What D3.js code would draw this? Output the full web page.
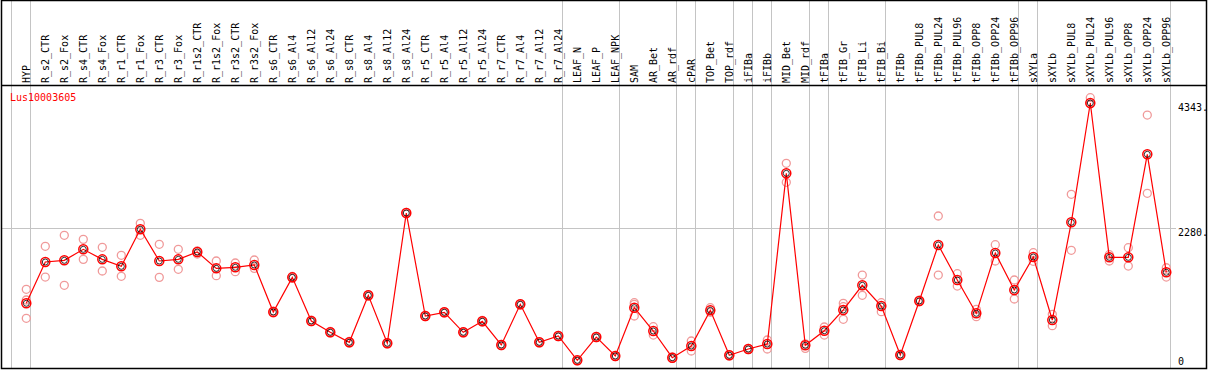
<!DOCTYPE html>
<html>
<head>
<meta charset="utf-8">
<script src="https://cdn.jsdelivr.net/npm/d3@7"></script>
<style>
  body { margin: 0; background: #fff; }
  text { font-family: "DejaVu Sans Mono", monospace; font-size: 10px; }
</style>
</head>
<body>
<div id="Vis"></div>
<script>
// sample names (x categories)
var samples = ["HYP","R_s2_CTR","R_s2_Fox","R_s4_CTR","R_s4_Fox","R_r1_CTR","R_r1_Fox","R_r3_CTR","R_r3_Fox",
  "R_r1s2_CTR","R_r1s2_Fox","R_r3s2_CTR","R_r3s2_Fox","R_s6_CTR","R_s6_Al4","R_s6_Al12","R_s6_Al24",
  "R_s8_CTR","R_s8_Al4","R_s8_Al12","R_s8_Al24","R_r5_CTR","R_r5_Al4","R_r5_Al12","R_r5_Al24",
  "R_r7_CTR","R_r7_Al4","R_r7_Al12","R_r7_Al24","LEAF_N","LEAF_P","LEAF_NPK","SAM","AR_Bet","AR_rdf",
  "cPAR","TOP_Bet","TOP_rdf","iFIBa","iFIBb","MID_Bet","MID_rdf","tFIBa","tFIB_Gr","tFIB_Li","tFIB_Bi",
  "tFIBb","tFIBb_PUL8","tFIBb_PUL24","tFIBb_PUL96","tFIBb_OPP8","tFIBb_OPP24","tFIBb_OPP96","sXYLa",
  "sXYLb","sXYLb_PUL8","sXYLb_PUL24","sXYLb_PUL96","sXYLb_OPP8","sXYLb_OPP24","sXYLb_OPP96"];

// mean expression per sample
var means = [1048,1727,1755,1936,1771,1656,2265,1744,1771,1892,1623,1640,1678,905,1475,757,571,
  406,1179,390,2533,839,900,571,752,362,1031,406,510,110,493,181,976,592,153,345,932,192,296,378,
  3186,357,597,938,1344,1003,197,1086,2007,1431,883,1875,1267,1810,773,2380,4343,1804,1804,3499,1558];

// replicate values per sample
var reps = [[1278,1102,801],[1985,1480],[2166,1344],[2100,1771],[1969,1579],[1837,1492],[2364,2166],
  [2018,1475],[1936,1607],[1908,1859],[1744,1502],[1711,1568],[1760,1623],[920,890],[1490,1460],
  [770,745],[585,560],[420,395],[1190,1165],[400,380],[2545,2520],[850,828],[912,888],[580,562],
  [765,740],[372,352],[1042,1020],[418,396],[520,500],[118,102],[505,482],[190,172],[1031,1058,839],
  [663,526],[165,142],[428,263],[976,900],[205,180],[306,286],[444,296],[3351,3038],[307,380],
  [658,526],[1048,992,785],[1513,1179],[1058,910],[208,186],[1100,1072],[2484,1513],[1535,1332],
  [949,828],[2012,1744],[1431,1119],[1880,1739],[867,680],[2841,1920],[4430,4326],[1848,1744],
  [1963,1661],[4145,2857],[1633,1480]];

// last sample of each group (vertical separators)
var groupEnds = ["HYP","R_r7_Al24","LEAF_NPK","AR_rdf","cPAR","TOP_rdf","iFIBa","iFIBb","MID_rdf",
  "tFIBa","tFIB_Bi","tFIBb_OPP96","sXYLa","sXYLb_OPP96"];

// y tick values and labels
var yTicks = [0, 2280, 4343];
var yTickLabels = ["0", "2280.", "4343."];
var geneName = "Lus10003605";

var width = 1209, height = 370;
var headerY = 85;

var svg = d3.select("#Vis")
  .append("svg")
    .attr("width", width)
    .attr("height", height);

var x = d3.scalePoint()
  .domain(samples)
  .range([26.3, 1166.3]);

var y = d3.scaleLinear()
  .domain([0, 4343])
  .range([367, 103]);

var step = x.step();

// group separators (one before the first sample too)
var sepX = [x(samples[0]) - step + 3.7].concat(groupEnds.map(function(d) { return x(d) + 3.7; }));
svg.append("g")
  .selectAll("line")
  .data(sepX)
  .enter().append("line")
    .attr("x1", function(d) { return Math.round(d) + 0.5; })
    .attr("x2", function(d) { return Math.round(d) + 0.5; })
    .attr("y1", 0)
    .attr("y2", 369)
    .attr("stroke", "#c4c4c4")
    .attr("stroke-width", 1);

// horizontal reference line at 2280
svg.append("line")
  .attr("x1", 2)
  .attr("x2", 1176)
  .attr("y1", Math.round(y(2280)) + 0.5)
  .attr("y2", Math.round(y(2280)) + 0.5)
  .attr("stroke", "#c4c4c4");

// frame and header line
svg.append("rect")
  .attr("x", 1.5).attr("y", 0.5)
  .attr("width", 1205).attr("height", 368)
  .attr("fill", "none")
  .attr("stroke", "#000")
  .attr("stroke-width", 1.5);
svg.append("line")
  .attr("x1", 1).attr("x2", 1207)
  .attr("y1", headerY + 0.5).attr("y2", headerY + 0.5)
  .attr("stroke", "#000")
  .attr("stroke-width", 1.5);

// rotated sample labels in the header
svg.append("g")
  .selectAll("text")
  .data(samples)
  .enter().append("text")
    .attr("transform", function(d) { return "translate(" + (x(d) + 3.6) + "," + (headerY - 2) + ") rotate(-90)"; })
    .attr("fill", "#000")
    .text(function(d) { return d; });

// gene name
svg.append("text")
  .attr("x", 10)
  .attr("y", 101)
  .attr("fill", "#ff0000")
  .text(geneName);

// y labels on the right
svg.append("g")
  .selectAll("text")
  .data(yTicks)
  .enter().append("text")
    .attr("x", 1178)
    .attr("y", function(d) { return Math.min(y(d) + 7.5, 365); })
    .attr("fill", "#000")
    .text(function(d, i) { return yTickLabels[i]; });

// replicate circles
var repPts = [];
samples.forEach(function(s, i) {
  reps[i].forEach(function(v) { repPts.push({s: s, v: v}); });
});
svg.append("g")
  .selectAll("circle")
  .data(repPts)
  .enter().append("circle")
    .attr("cx", function(d) { return x(d.s); })
    .attr("cy", function(d) { return y(d.v); })
    .attr("r", 4)
    .attr("fill", "none")
    .attr("stroke", "#f09a9a")
    .attr("stroke-width", 1.3);

// mean line
svg.append("path")
  .datum(means)
  .attr("fill", "none")
  .attr("stroke", "#ff0000")
  .attr("stroke-width", 1.2)
  .attr("d", d3.line()
    .x(function(d, i) { return x(samples[i]); })
    .y(function(d) { return y(d); }));

// mean markers
var mk = svg.append("g")
  .selectAll("g")
  .data(means)
  .enter().append("g")
    .attr("transform", function(d, i) { return "translate(" + x(samples[i]) + "," + y(d) + ")"; });
mk.append("circle")
  .attr("r", 4.5)
  .attr("fill", "none")
  .attr("stroke", "#ff0000")
  .attr("stroke-width", 1.5);
mk.append("circle")
  .attr("r", 3)
  .attr("fill", "none")
  .attr("stroke", "#000")
  .attr("stroke-width", 0.8);
</script>
</body>
</html>
